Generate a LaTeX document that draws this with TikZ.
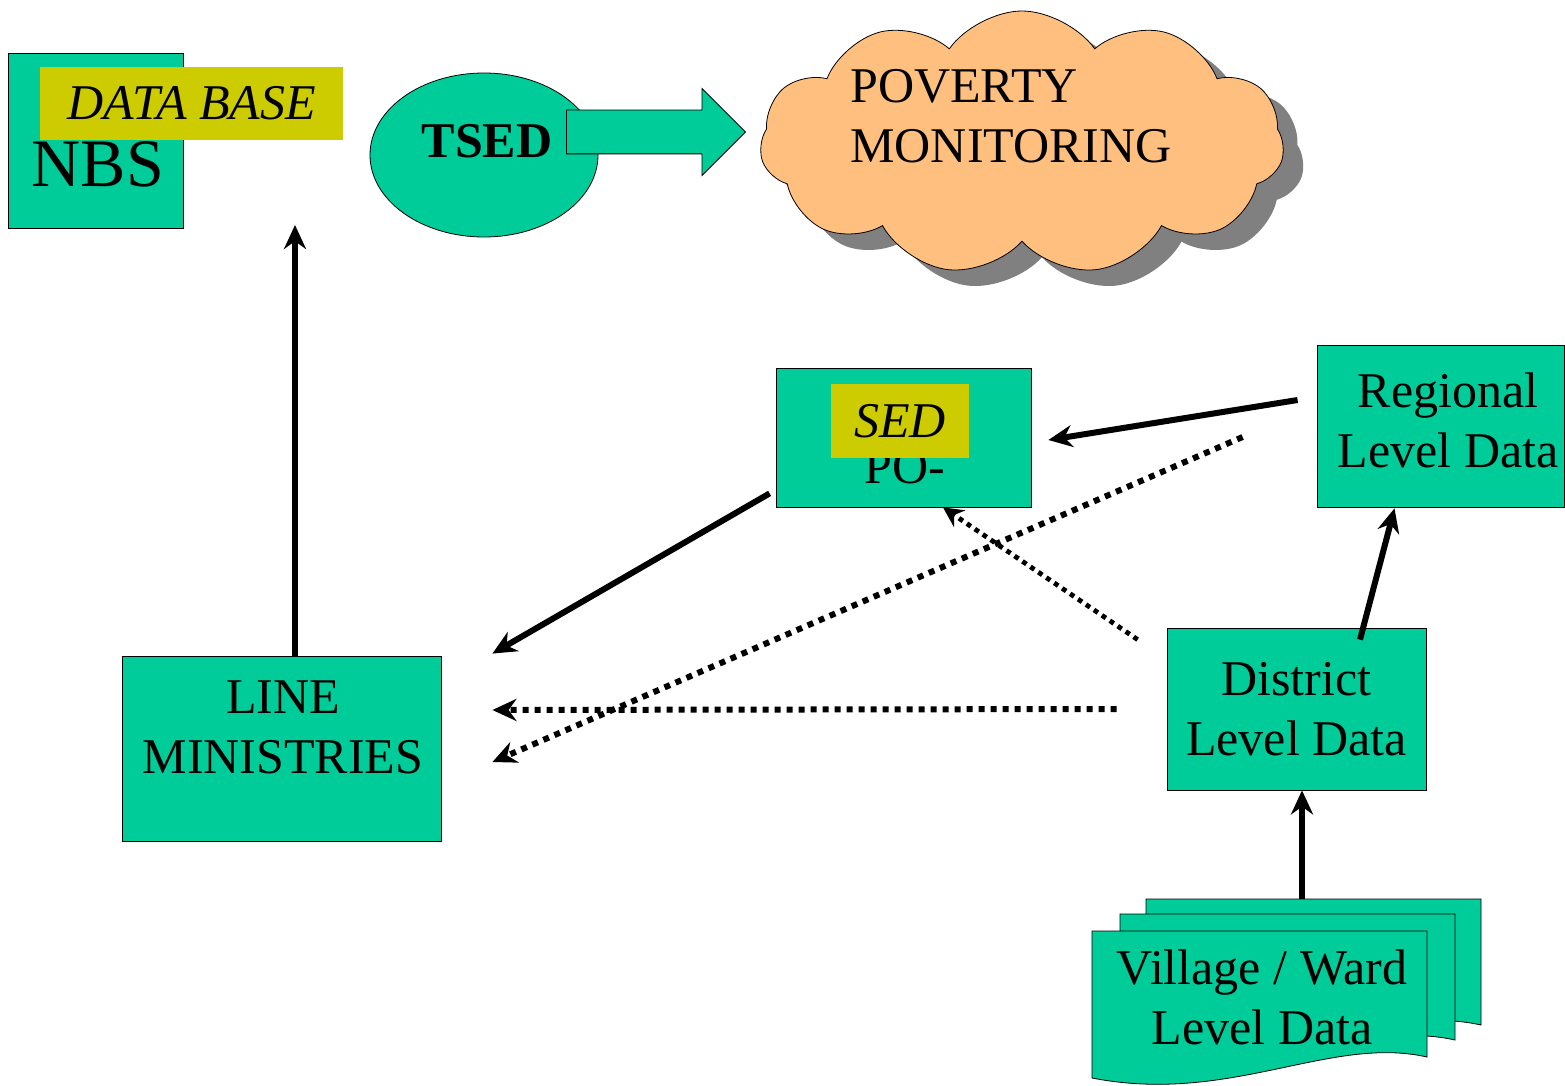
\documentclass[tikz,border=0pt]{standalone}
\usepackage{fontspec}
\setmainfont{Liberation Serif}
\usepackage{tikz}
\usetikzlibrary{arrows.meta,positioning,shapes,shadows}

\definecolor{boxgreen}{RGB}{0,204,153}
\definecolor{tagyellow}{RGB}{204,204,0}
\definecolor{cloudorange}{RGB}{255,191,127}

\begin{document}
\begin{tikzpicture}[
  x=0.5pt, y=-0.5pt,
  box/.style={rectangle, draw, fill=boxgreen, inner sep=0pt, font=\fontsize{25}{30}\selectfont, align=center},
  tag/.style={rectangle, fill=tagyellow, inner sep=0pt, font=\fontsize{25}{30}\selectfont\itshape},
  txt/.style={inner sep=0pt, font=\fontsize{25}{30}\selectfont, align=center},
  page/.style={draw, fill=boxgreen},
  arrow/.style={-{Stealth[length=12pt, width=11pt]}, line width=3pt},
  dotarrow/.style={arrow, dash pattern=on 3pt off 3pt},
  thindot/.style={-{Stealth[length=10pt, width=10pt]}, line width=2.4pt, dash pattern=on 2.4pt off 2.4pt}
]
\useasboundingbox (0,0) rectangle (1565,1086);

% NBS with data base
\node[box, minimum width=87.5pt, minimum height=87.5pt] (nbs) at (95.5,140.5) {};
\node[txt, font=\fontsize{34}{40}\selectfont, anchor=base] (nbstext) at (98,187) {NBS};
\node[tag, minimum width=151.5pt, minimum height=36.5pt] (database) at (191.5,103.5) {DATA BASE};

% TSED
\node[ellipse, draw, fill=boxgreen, minimum width=114pt, minimum height=82pt] (tsed) at (484,155) {};
\node[txt, font=\fontsize{25}{30}\selectfont\bfseries, anchor=base] (tsedtext) at (487,158) {TSED};
\node[single arrow, draw, fill=boxgreen, minimum height=89.5pt, inner xsep=0pt, inner ysep=10.75pt,
  single arrow head extend=10.75pt] (tsedarrow) at (645,132) {};

% Poverty monitoring
\node[cloud, cloud puffs=11, cloud puff arc=110, aspect=2, draw, fill=cloudorange,
  minimum width=262pt, minimum height=132pt,
  drop shadow={shadow xshift=10pt, shadow yshift=-8pt, fill=black!50, opacity=1}] (cloud) at (1022,143) {};
\node[txt, align=left, anchor=west] (cloudtext) at (850,116.5) {POVERTY\\MONITORING};

% PO-SED
\node[box, minimum width=127.5pt, minimum height=69.5pt] (po) at (903.5,437.5) {};
\node[txt, anchor=base] (potext) at (905,483) {PO-};
\node[tag, minimum width=69pt, minimum height=37pt] (sed) at (900,421) {SED};

% Levels
\node[box, minimum width=123.5pt, minimum height=81pt] (regional) at (1440.5,426) {};
\node[txt] (regionaltext) at (1448,420) {Regional\\Level Data};
\node[box, minimum width=129.5pt, minimum height=81pt] (district) at (1296.5,709) {District\\Level Data};
\node[box, minimum width=159.5pt, minimum height=92.5pt] (line) at (281.5,748.5) {};
\node[txt] (linetext) at (283,727.5) {LINE\\MINISTRIES};

% Village / ward pages
\foreach \dx/\dy in {54/-32, 28/-17, 0/0}
  \draw[page, shift={(\dx,\dy)}] (1092,931) -- (1427,931) -- (1427,1057)
    .. controls (1330,1035) and (1230,1105) .. (1092,1078) -- cycle;
\node[txt] (village) at (1262,997.5) {Village / Ward\\Level Data};
\coordinate (villagetop) at (1302,899);
\coordinate (nbsin) at (295,225);

% Arrows
\draw[arrow] (line.north -| nbsin) -- (nbsin);
\draw[arrow] ([shift={(-6,-14)}]po.south west) -- ([shift={(51,-2)}]line.north east);
\draw[arrow] ([shift={(-19,-26)}]regional.west) -- ([shift={(17,2.5)}]po.east);
\draw[dotarrow] ([shift={(-74,11)}]regional.west) -- ([shift={(51,13.5)}]line.east);
\draw[thindot] ([shift={(-29,12)}]district.north west) -- ([shift={(39.5,0)}]po.south);
\draw[dotarrow] ([shift={(-50,0)}]district.west) -- ([shift={(51,-38.5)}]line.east);
\draw[arrow] ([shift={(63.5,12)}]district.north) -- ([shift={(-46,1)}]regional.south);
\draw[arrow] (villagetop) -- (villagetop |- district.south);

\end{tikzpicture}
\end{document}
